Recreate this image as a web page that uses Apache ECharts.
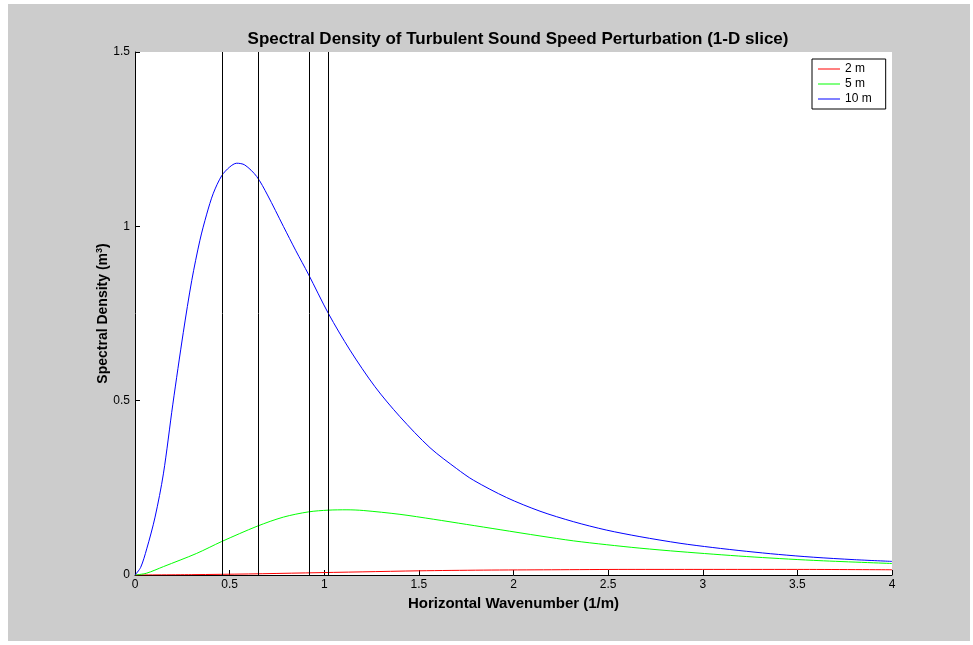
<!DOCTYPE html>
<html>
<head>
<meta charset="utf-8">
<script src="https://cdn.jsdelivr.net/npm/echarts@6/dist/echarts.min.js"></script>
<style>
  html, body { margin: 0; padding: 0; background: #ffffff; }
  #frame { position: absolute; left: 8px; top: 4px; width: 962px; height: 637px; background: #cccccc; }
  #chart { position: absolute; left: 0; top: 0; width: 973px; height: 645px; }
</style>
</head>
<body>
<div id="frame"></div>
<div id="chart"></div>
<script>
// Wavenumber samples (1/m) and spectral density (m^3) for each outer scale
const k10 = [0, 0.03, 0.062, 0.106, 0.15, 0.20, 0.255, 0.30, 0.343, 0.379, 0.414, 0.458, 0.50, 0.537, 0.58, 0.643, 0.70, 0.784, 0.85, 0.916, 1.022, 1.136, 1.268, 1.40, 1.559, 1.70, 1.788, 1.964, 2.14, 2.316, 2.49, 2.668, 2.88, 3.05, 3.23, 3.40, 3.584, 3.80, 4.0];
const s10 = [0, 0.022, 0.075, 0.166, 0.29, 0.49, 0.695, 0.845, 0.96, 1.035, 1.095, 1.145, 1.17, 1.181, 1.176, 1.143, 1.09, 1.0, 0.93, 0.863, 0.750, 0.645, 0.540, 0.454, 0.365, 0.305, 0.272, 0.222, 0.183, 0.153, 0.129, 0.110, 0.091, 0.079, 0.068, 0.059, 0.051, 0.044, 0.039];

const k5 = [0, 0.06, 0.15, 0.326, 0.458, 0.646, 0.784, 0.916, 1.022, 1.12, 1.206, 1.40, 1.576, 1.753, 1.929, 2.14, 2.316, 2.49, 2.668, 2.88, 3.23, 3.584, 4.0];
const s5 = [0, 0.005, 0.024, 0.062, 0.096, 0.14, 0.166, 0.181, 0.186, 0.187, 0.185, 0.174, 0.160, 0.145, 0.130, 0.112, 0.098, 0.087, 0.077, 0.067, 0.053, 0.042, 0.033];

const k2 = [0, 0.3, 0.6, 0.9, 1.2, 1.5, 1.84, 2.2, 2.6, 3.0, 3.5, 4.0];
const s2 = [0, 0.001, 0.003, 0.006, 0.009, 0.012, 0.014, 0.015, 0.016, 0.016, 0.016, 0.015];

// Marker wavenumbers drawn as vertical reference lines
const markerK = [0.46, 0.645, 0.918, 1.023];

const seriesNames = ['2 m', '5 m', '10 m'];
const seriesColors = ['#ff0000', '#00ff00', '#0000ff'];

const xTicks = { min: 0, max: 4, step: 0.5 };
const yTicks = { min: 0, max: 1.5, step: 0.5 };

function pairs(xs, ys) { return xs.map((x, i) => [x, ys[i]]); }

const font = 'Arial, "Liberation Sans", Helvetica, sans-serif';
const chart = echarts.init(document.getElementById('chart'), null, { renderer: 'canvas' });

const curves = [pairs(k2, s2), pairs(k5, s5), pairs(k10, s10)];

const series = curves.map((d, i) => ({
  name: seriesNames[i],
  type: 'line',
  data: d,
  showSymbol: false,
  symbol: 'none',
  smooth: 0.3,
  lineStyle: { color: seriesColors[i], width: 1 },
  itemStyle: { color: seriesColors[i] },
  z: 3,
  animation: false
}));

series.push({
  name: 'markers',
  type: 'line',
  data: [],
  silent: true,
  animation: false,
  markLine: {
    silent: true,
    symbol: 'none',
    animation: false,
    label: { show: false },
    lineStyle: { color: '#000000', width: 1, type: 'solid' },
    data: markerK.map(k => ({ xAxis: k }))
  }
});

chart.setOption({
  animation: false,
  backgroundColor: 'transparent',
  title: {
    text: 'Spectral Density of Turbulent Sound Speed Perturbation (1-D slice)',
    left: 513,
    top: 26,
    textAlign: 'center',
    textStyle: { fontFamily: font, fontSize: 17, fontWeight: 'bold', color: '#000' }
  },
  legend: {
    data: seriesNames,
    orient: 'vertical',
    left: 812,
    top: 59,
    backgroundColor: '#ffffff',
    borderColor: '#000000',
    borderWidth: 1,
    borderRadius: 0,
    padding: [4, 14, 4, 6],
    itemGap: 3,
    itemWidth: 22,
    itemHeight: 1,
    icon: 'rect',
    textStyle: { fontFamily: font, fontSize: 12, color: '#000' }
  },
  grid: { left: 135, right: 81, top: 52, bottom: 70, show: true, backgroundColor: '#ffffff', borderWidth: 0 },
  xAxis: {
    type: 'value',
    min: xTicks.min,
    max: xTicks.max,
    interval: xTicks.step,
    name: 'Horizontal Wavenumber (1/m)',
    nameLocation: 'middle',
    nameGap: 21,
    nameTextStyle: { fontFamily: font, fontSize: 15, fontWeight: 'bold', color: '#000' },
    axisLine: { show: true, lineStyle: { color: '#000', width: 1 } },
    axisTick: { show: true, inside: true, length: 5, lineStyle: { color: '#000' } },
    axisLabel: { fontFamily: font, fontSize: 12, color: '#000', margin: 4 },
    splitLine: { show: false }
  },
  yAxis: {
    type: 'value',
    min: yTicks.min,
    max: yTicks.max,
    interval: yTicks.step,
    name: 'Spectral Density (m{sup|3})',
    nameLocation: 'middle',
    nameGap: 23,
    nameMoveOverlap: false,
    nameTextStyle: {
      fontFamily: font, fontSize: 14, fontWeight: 'bold', color: '#000',
      rich: { sup: { fontFamily: font, fontSize: 9, fontWeight: 'bold', color: '#000', verticalAlign: 'top', padding: [0, 0, 8, 0] } }
    },
    axisLine: { show: true, lineStyle: { color: '#000', width: 1 } },
    axisTick: { show: true, inside: true, length: 5, lineStyle: { color: '#000' } },
    axisLabel: { fontFamily: font, fontSize: 12, color: '#000', margin: 5 },
    splitLine: { show: false }
  },
  series: series
});
</script>
</body>
</html>
